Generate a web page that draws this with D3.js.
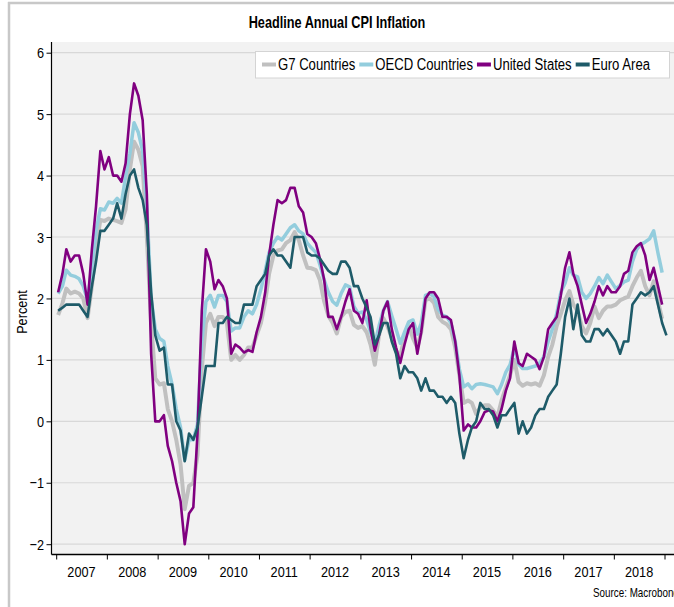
<!DOCTYPE html>
<html><head><meta charset="utf-8">
<script src="https://cdn.jsdelivr.net/npm/d3@7/dist/d3.min.js"></script>
<style>
body{margin:0;background:#fff;}
text{font-family:"Liberation Sans",Arial,sans-serif;fill:#000;}
</style>
</head><body>
<svg id="chart" width="674" height="607"></svg>
<script>
// ---------- DATA ----------
const title = "Headline Annual CPI Inflation";
const yLabel = "Percent";
const source = "Source: Macrobond";
const startYear = 2007;           // first monthly observation: Jan 2007
const yearLabels = ["2007","2008","2009","2010","2011","2012","2013","2014","2015","2016","2017","2018"];
const yTicks = [-2,-1,0,1,2,3,4,5,6];
const seriesNames = ["G7 Countries","OECD Countries","United States","Euro Area"];

const g7 = [
 1.73,1.92,2.16,2.08,2.11,2.08,2.0,1.68,2.2,2.8,3.28,3.26,
 3.3,3.28,3.26,3.23,3.45,4.1,4.55,4.42,4.15,3.0,1.6,0.7,
 0.6,0.62,0.2,0.0,-0.3,-0.7,-1.43,-1.05,-1.0,-0.55,0.85,1.6,
 1.75,1.55,1.7,1.7,1.6,1.0,1.08,1.0,1.08,1.2,1.2,1.4,
 1.6,1.95,2.4,2.7,2.78,2.8,2.9,2.95,3.08,2.95,2.7,2.5,
 2.49,2.46,2.3,1.95,1.72,1.6,1.43,1.7,1.78,1.8,1.57,1.52,
 1.55,1.45,1.25,0.92,1.4,1.68,1.55,1.35,1.15,1.05,1.4,1.55,
 1.35,1.2,1.45,1.97,2.0,1.93,1.7,1.62,1.58,1.5,1.2,0.75,
 0.3,0.34,0.3,0.12,0.23,0.26,0.26,0.18,0.07,0.34,0.55,0.75,
 1.0,0.64,0.58,0.62,0.6,0.62,0.58,0.75,1.05,1.25,1.55,1.75,
 1.97,2.12,1.9,1.8,1.55,1.43,1.6,1.87,1.68,1.8,1.87,1.87,
 1.9,1.97,2.0,2.03,2.2,2.34,2.45,2.2,2.05,2.28,1.95,1.67
];
const oecd = [
 2.08,2.2,2.46,2.38,2.36,2.32,2.2,1.97,2.5,3.1,3.46,3.44,
 3.57,3.55,3.63,3.55,3.98,4.36,4.86,4.7,4.4,3.5,2.0,1.5,
 1.35,1.3,0.9,0.6,0.2,-0.1,-0.63,-0.3,-0.3,-0.05,1.3,1.95,
 2.05,1.86,2.05,2.05,1.95,1.47,1.52,1.52,1.7,1.8,1.75,1.9,
 2.15,2.45,2.75,2.9,3.0,2.95,3.05,3.15,3.2,3.1,3.05,2.9,
 2.82,2.75,2.55,2.3,2.1,1.95,1.89,2.08,2.22,2.19,1.87,1.76,
 1.78,1.65,1.45,1.27,1.55,1.8,1.95,1.72,1.5,1.27,1.45,1.62,
 1.65,1.42,1.6,2.05,2.08,2.03,1.82,1.73,1.7,1.6,1.3,0.85,
 0.56,0.61,0.53,0.6,0.61,0.6,0.58,0.56,0.45,0.6,0.8,0.92,
 1.2,0.93,0.86,0.86,0.88,0.9,0.95,1.05,1.3,1.5,1.75,2.1,
 2.25,2.5,2.38,2.35,2.1,2.0,2.08,2.2,2.34,2.24,2.38,2.27,
 2.16,2.21,2.27,2.3,2.6,2.8,2.88,2.92,2.97,3.1,2.74,2.42
];
const us = [
 2.1,2.4,2.8,2.6,2.7,2.7,2.4,1.9,2.8,3.5,4.4,4.1,
 4.3,4.0,4.0,3.9,4.2,5.0,5.5,5.3,4.9,3.7,1.1,0.0,
 0.0,0.1,-0.4,-0.65,-1.0,-1.3,-2.0,-1.5,-1.4,-0.2,1.8,2.8,
 2.6,2.15,2.3,2.2,2.0,1.1,1.25,1.2,1.12,1.16,1.13,1.45,
 1.7,2.1,2.7,3.2,3.6,3.55,3.6,3.8,3.8,3.5,3.4,3.05,
 3.0,2.9,2.65,2.3,1.7,1.7,1.5,1.7,1.95,2.15,1.8,1.75,
 1.6,1.97,1.5,1.15,1.4,1.8,1.95,1.5,1.2,0.95,1.25,1.5,
 1.6,1.1,1.45,2.0,2.1,2.1,2.0,1.7,1.7,1.65,1.3,0.75,
 -0.15,-0.05,-0.1,-0.1,0.0,0.15,0.18,0.16,0.0,0.2,0.5,0.7,
 1.3,0.95,0.9,1.1,1.05,1.0,0.85,1.05,1.5,1.6,1.7,2.05,
 2.5,2.75,2.4,2.2,1.9,1.6,1.75,1.95,2.2,2.05,2.2,2.1,
 2.1,2.2,2.4,2.45,2.75,2.85,2.9,2.7,2.3,2.5,2.2,1.9
];
const euro = [
 1.8,1.85,1.9,1.9,1.9,1.9,1.8,1.7,2.2,2.6,3.1,3.1,
 3.2,3.3,3.55,3.3,3.7,4.0,4.1,3.8,3.6,3.2,2.1,1.4,
 1.15,1.2,0.6,0.6,0.0,-0.15,-0.65,-0.2,-0.3,-0.1,0.4,0.9,
 0.9,0.9,1.6,1.6,1.7,1.65,1.6,1.6,1.9,1.9,1.9,2.2,
 2.3,2.4,2.7,2.8,2.7,2.7,2.6,2.5,3.0,3.0,3.0,2.75,
 2.7,2.7,2.65,2.55,2.45,2.4,2.4,2.6,2.6,2.5,2.2,2.2,
 2.0,1.85,1.7,1.25,1.4,1.6,1.6,1.3,1.1,0.7,0.9,0.8,
 0.8,0.7,0.5,0.7,0.5,0.5,0.4,0.4,0.3,0.4,0.3,-0.2,
 -0.6,-0.3,-0.1,0.0,0.3,0.2,0.2,0.1,-0.1,0.1,0.1,0.2,
 0.3,-0.2,0.0,-0.2,-0.1,0.1,0.2,0.2,0.4,0.5,0.6,1.1,
 1.7,2.0,1.5,1.9,1.4,1.3,1.3,1.5,1.5,1.4,1.5,1.4,
 1.3,1.1,1.3,1.3,1.9,2.0,2.1,2.05,2.1,2.2,1.9,1.6,
 1.4
];
const seriesValues = [g7, oecd, us, euro];
const seriesColors = ["#c0c0c0","#93cddd","#800080","#1e5b69"];
const seriesWidths = [4, 3.5, 2.6, 2.6];

// ---------- LAYOUT ----------
const W = 674, H = 607;
const NARROW = 0.82;   // condensed text look
const plot = {left:51.5, top:42, right:700, bottom:554.5};
const svg = d3.select("#chart");

function ntext(parent, x, y, str, size, anchor, weight, sx){
  return parent.append("text")
    .attr("transform",`translate(${x},${y}) scale(${sx||NARROW},1)`)
    .attr("text-anchor",anchor||"start")
    .style("font-size",size+"px")
    .style("font-weight",weight||"normal")
    .text(str);
}

const x = d3.scaleTime()
  .domain([new Date(startYear,0,1), new Date(startYear+yearLabels.length,0,1)])
  .range([56.2, 664.5]);
const y = d3.scaleLinear().domain([-2,6]).range([544.2, 52.7]);

// outer frame
svg.append("rect").attr("x",0).attr("y",0).attr("width",W).attr("height",H).attr("fill","#fff");
svg.append("line").attr("x1",8).attr("x2",W).attr("y1",3).attr("y2",3)
  .attr("stroke","#c8c8c8").attr("stroke-width",2.5);
svg.append("line").attr("x1",9).attr("x2",9).attr("y1",2).attr("y2",H)
  .attr("stroke","#c8c8c8").attr("stroke-width",2.5);

// plot background
svg.append("rect").attr("x",plot.left).attr("y",plot.top)
  .attr("width",plot.right-plot.left).attr("height",plot.bottom-plot.top)
  .attr("fill","#f2f2f2");

// gridlines
svg.append("g").selectAll("line").data(yTicks).join("line")
  .attr("x1",plot.left).attr("x2",plot.right)
  .attr("y1",d=>y(d)).attr("y2",d=>y(d))
  .attr("stroke","#d8d8d8").attr("stroke-width",1.2);

// title
ntext(svg, 337, 28, title, 16.5, "middle", "bold", 0.77);

// y axis (ticks via d3 axis, labels drawn condensed)
const yAxis = d3.axisLeft(y).tickValues(yTicks).tickSize(5).tickFormat("");
const gy = svg.append("g").attr("transform",`translate(${plot.left},0)`).call(yAxis);
gy.select(".domain").remove();
gy.append("line").attr("x1",0).attr("x2",0).attr("y1",plot.top).attr("y2",plot.bottom)
  .attr("stroke","#000").attr("stroke-width",1.2);
gy.selectAll(".tick line").attr("stroke","#000");
const gyl = svg.append("g");
yTicks.forEach(v=>{
  ntext(gyl, 44, y(v)+5.5, d3.format("d")(v), 15.5, "end");
});

// x axis
const yearTicks = d3.range(yearLabels.length+1).map(i=>new Date(startYear+i,0,1));
const xAxis = d3.axisBottom(x).tickValues(yearTicks).tickSize(5).tickFormat("");
const gx = svg.append("g").attr("transform",`translate(0,${plot.bottom})`).call(xAxis);
gx.select(".domain").remove();
gx.append("line").attr("x1",plot.left).attr("x2",plot.right).attr("y1",0).attr("y2",0)
  .attr("stroke","#000").attr("stroke-width",1.5);
gx.selectAll(".tick line").attr("stroke","#000");
const gxl = svg.append("g");
yearLabels.forEach((d,i)=>{
  ntext(gxl, x(new Date(startYear+i,6,2)), 577, d, 15.5, "middle");
});

// y label
svg.append("text").attr("transform",`translate(27,312) rotate(-90) scale(${NARROW},1)`)
  .attr("text-anchor","middle").style("font-size","15.5px").text(yLabel);

// source
ntext(svg, 593, 597, source, 12, "start");

// lines
const line = d3.line().x((d,i)=>x(new Date(startYear,i,15))).y(d=>y(d));
svg.append("g").selectAll("path").data(seriesValues).join("path")
  .attr("d",d=>line(d)).attr("fill","none")
  .attr("stroke",(d,i)=>seriesColors[i]).attr("stroke-width",(d,i)=>seriesWidths[i])
  .attr("stroke-linejoin","round").attr("stroke-linecap","butt");

// legend
const lg = svg.append("g");
lg.append("rect").attr("x",255.5).attr("y",51.5).attr("width",414).attr("height",26.5)
  .attr("fill","#fff").attr("stroke","#d4d4d4").attr("stroke-width",1);
let lx = 262;
seriesNames.forEach((name,i)=>{
  lg.append("line").attr("x1",lx).attr("x2",lx+14).attr("y1",64.5).attr("y2",64.5)
    .attr("stroke",seriesColors[i]).attr("stroke-width",4);
  const t = ntext(lg, lx+16, 70, name, 16);
  lx += 16 + t.node().getComputedTextLength()*NARROW + 4;
});
</script>
</body></html>
